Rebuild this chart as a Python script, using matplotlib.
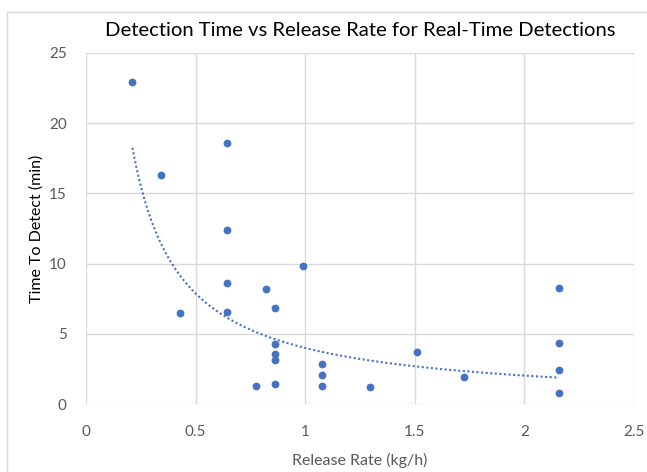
import numpy as np
import matplotlib.pyplot as plt
from matplotlib.lines import Line2D

# release rate (kg/h) and time to detect (min)
release_rate = [0.212, 0.340, 0.642, 0.642, 0.992, 0.642, 0.820, 0.862, 0.429, 0.642,
                0.862, 0.862, 0.862, 0.774, 0.862, 1.076, 1.076, 1.076, 1.294,
                1.508, 1.726, 2.158, 2.158, 2.158, 2.158]
detect_time = [22.9, 16.3, 18.6, 12.4, 9.85, 8.6, 8.17, 6.86, 6.46, 6.55,
               4.25, 3.58, 3.13, 1.31, 1.45, 2.83, 2.09, 1.31, 1.24,
               3.73, 1.90, 8.28, 4.32, 2.42, 0.78]
x_ticks = [0, 0.5, 1, 1.5, 2, 2.5]
x_tick_labels = ['0', '0.5', '1', '1.5', '2', '2.5']
y_ticks = [0, 5, 10, 15, 20, 25]

plt.rcParams['font.family'] = ['Lato', 'DejaVu Sans']
blue = '#4472C4'
grey = '#595959'

x = np.array(release_rate)
y = np.array(detect_time)

# power trendline, fitted in log-log space like Excel does
b, log_a = np.polyfit(np.log(x), np.log(y), 1)
xf = np.linspace(x.min(), x.max(), 200)
yf = np.exp(log_a) * xf ** b

W, H = 647, 472
fig = plt.figure(figsize=(W / 100, H / 100), dpi=100)
ax = fig.add_axes([86 / W, (H - 404) / H, 548 / W, 351 / H])

ax.plot(xf, yf, linestyle=(0, (1, 1.2)), color=blue, linewidth=1.5, zorder=2)
ax.plot(x, y, 'o', color=blue, markersize=4.6, zorder=3)

ax.set_xlim(0, 2.5)
ax.set_ylim(0, 25)
ax.set_xticks(x_ticks)
ax.set_xticklabels(x_tick_labels)
ax.set_yticks(y_ticks)
ax.grid(True, color='#d9d9d9', linewidth=1)
ax.set_axisbelow(True)
for s in ax.spines.values():
    s.set_visible(False)
ax.tick_params(length=0, labelsize=11, colors=grey)
ax.tick_params(axis='x', pad=15)
ax.tick_params(axis='y', pad=14)

ax.set_title('Detection Time vs Release Rate for Real-Time Detections',
             fontsize=14.6, color='black', pad=12)
ax.set_xlabel('Release Rate (kg/h)', fontsize=11.5, color=grey, labelpad=10)
ax.set_ylabel('Time To Detect (min)', fontsize=11.5, color='black', labelpad=4)

# chart-area border (only top and left edges fall inside the picture)
fig.add_artist(Line2D([7 / W, 1], [1 - 12 / H, 1 - 12 / H], color='#d9d9d9', linewidth=1))
fig.add_artist(Line2D([7 / W, 7 / W], [0, 1 - 12 / H], color='#d9d9d9', linewidth=1))

fig.savefig('out.png', dpi=100)
